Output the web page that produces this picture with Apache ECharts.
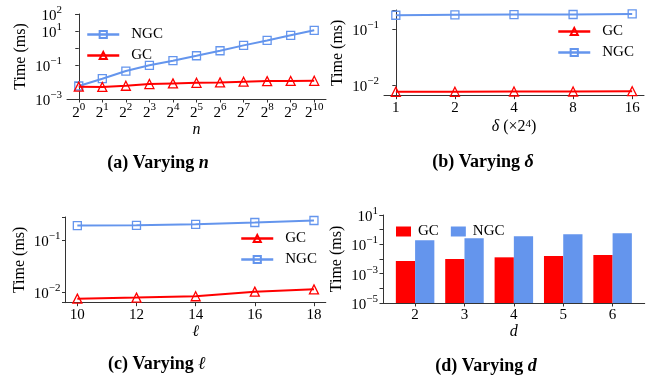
<!DOCTYPE html>
<html><head><meta charset="utf-8">
<script src="https://cdn.jsdelivr.net/npm/echarts@6/dist/echarts.min.js"></script>
<style>html,body{margin:0;padding:0;background:#fff}#c{width:660px;height:382px}</style>
</head><body><div id="c"></div>
<script>
// ---- data ----
const nExp = [0,1,2,3,4,5,6,7,8,9,10];               // x ticks of (a): 2^k
const ngcN = [0.0058,0.0156,0.044,0.096,0.18,0.35,0.69,1.43,2.8,5.6,11];
const gcN  = [0.0053,0.0051,0.006,0.0076,0.0083,0.009,0.0095,0.0104,0.0113,0.0115,0.0118];

const deltaLabels = ['1','2','4','8','16'];
const gcDelta  = [0.0075,0.0075,0.0076,0.0076,0.0077];
const ngcDelta = [0.180,0.183,0.185,0.186,0.190];

const ellVals = [10,12,14,16,18];
const gcEll  = [0.00755,0.0079,0.0084,0.0103,0.0114];
const ngcEll = [0.195,0.197,0.206,0.223,0.244];

const dVals = [2,3,4,5,6];
const gcD  = [0.0073,0.010,0.013,0.016,0.0188];
const ngcD = [0.19,0.26,0.36,0.49,0.57];

// ---- style ----
const BLUE = '#6495ED', RED = '#FF0000';
const FF = '"Liberation Serif", "DejaVu Serif", serif';
const AX = '#333';

const rich = {
  b: {fontSize: 15, fontFamily: FF, color: '#000', verticalAlign: 'bottom', lineHeight: 19},
  s: {fontSize: 11, fontFamily: FF, color: '#000', verticalAlign: 'top', lineHeight: 10}
};
function logFmt(show) {
  return function (v) {
    const l = Math.log10(v), e = Math.round(l);
    if (Math.abs(l - e) > 1e-7 || show.indexOf(e) < 0) return '';
    return '{b|10}{s|' + (e < 0 ? '\u2212' + (-e) : e) + '}';
  };
}
function yAxisLog(grid, min, max, show) {
  return {
    type: 'log', gridIndex: grid, min: min, max: max, logBase: 10,
    name: 'Time (ms)', nameLocation: 'middle', nameGap: 38,
    nameTextStyle: {fontFamily: FF, fontSize: 16, color: '#000'},
    axisLine: {show: true, lineStyle: {color: AX, width: 1}},
    axisTick: {show: true, length: 3.5, lineStyle: {color: AX}},
    splitLine: {show: false},
    axisLabel: {formatter: logFmt(show), rich: rich, margin: 5, color: '#000', hideOverlap: false}
  };
}
function xAxisVal(grid, min, max, custom, fmt, name, nameGap, nameRich, lm) {
  return {
    type: 'value', gridIndex: grid, min: min, max: max,
    name: name, nameLocation: 'middle', nameGap: nameGap,
    nameTextStyle: {fontFamily: FF, fontSize: 16, color: '#000', rich: nameRich},
    axisLine: {show: true, onZero: false, lineStyle: {color: AX, width: 1}},
    axisTick: {show: true, length: 3.5, customValues: custom, lineStyle: {color: AX}},
    splitLine: {show: false},
    axisLabel: {customValues: custom, formatter: fmt, rich: rich, margin: lm, color: '#000',
      fontFamily: FF, fontSize: 15}
  };
}
function lineSeries(name, xi, yi, xs, ys, color, sym, size) {
  return {
    type: 'line', name: name, xAxisIndex: xi, yAxisIndex: yi,
    data: xs.map((x, i) => [x, ys[i]]),
    symbol: sym, symbolSize: size,
    lineStyle: {color: color, width: 2},
    itemStyle: {color: 'rgba(255,255,255,0)', borderColor: color, borderWidth: 1.3},
    emphasis: {disabled: true}, z: sym === 'rect' ? 3 : 4
  };
}
const idx5 = [0,1,2,3,4];
const nameRichX = {
  i: {fontFamily: FF, fontStyle: 'italic', fontSize: 16, color: '#000'},
  r: {fontFamily: FF, fontSize: 16, color: '#000'},
  s: {fontFamily: FF, fontSize: 11, color: '#000', verticalAlign: 'top', lineHeight: 10}
};
const legText = {fontFamily: FF, fontSize: 15, color: '#000', padding: [0,0,0,7]};

const option = {
  animation: false,
  grid: [
    {left: 67, top: 14, width: 259, height: 85},
    {left: 384, top: 10, width: 260, height: 85.7},
    {left: 65.5, top: 217, width: 260.3, height: 85.7},
    {left: 383, top: 215, width: 261.7, height: 88}
  ],
  xAxis: [
    xAxisVal(0, -0.5, 10.5, nExp, v => '{b|2}{s|' + v + '}', '{i|n}', 15, nameRichX, 3),
    xAxisVal(1, -0.2, 4.2, idx5, v => deltaLabels[v], '{i|δ} {r|(×2}{s|4}{r|)}', 23, nameRichX, 5),
    xAxisVal(2, 9.6, 18.4, ellVals, v => String(v), '{i|ℓ}', 17, nameRichX, 5),
    xAxisVal(3, 1.35, 6.65, dVals, v => String(v), '{i|d}', 17, nameRichX, 5)
  ],
  yAxis: [
    yAxisLog(0, 0.001, 100.001, [-3, -1, 1, 2]),
    yAxisLog(1, 0.00638, 0.224, [-2, -1]),
    yAxisLog(2, 0.0063, 0.285, [-2, -1]),
    yAxisLog(3, 0.00001, 10.001, [-5, -3, -1, 1])
  ],
  series: [
    lineSeries('NGC', 0, 0, nExp, ngcN, BLUE, 'rect', 8),
    lineSeries('GC', 0, 0, nExp, gcN, RED, 'triangle', 9),
    lineSeries('GC ', 1, 1, idx5, gcDelta, RED, 'triangle', 9),
    lineSeries('NGC ', 1, 1, idx5, ngcDelta, BLUE, 'rect', 8),
    lineSeries('GC  ', 2, 2, ellVals, gcEll, RED, 'triangle', 9),
    lineSeries('NGC  ', 2, 2, ellVals, ngcEll, BLUE, 'rect', 8)
  ],
  graphic: []
};

// bars for (d) drawn on the log axis from the axis floor
function barSeries(name, vals, color, side) {
  return {
    type: 'custom', name: name, xAxisIndex: 3, yAxisIndex: 3, clip: true,
    itemStyle: {color: color},
    data: dVals.map((x, i) => [x, vals[i]]),
    renderItem: function (params, api) {
      const x = api.value(0), v = api.value(1);
      const top = api.coord([x, v]);
      const base = api.coord([x, 0.00001]);
      const w = api.size([0.39, 0])[0];
      return {type: 'rect',
        shape: {x: side < 0 ? top[0] - w : top[0], y: top[1], width: w, height: base[1] - top[1]},
        style: {fill: color}};
    }
  };
}
option.series.push(barSeries('GC   ', gcD, RED, -1));
option.series.push(barSeries('NGC   ', ngcD, BLUE, 1));

// legends: each panel
const legendFmt = n => n.trim();
const legLine = {width: 2.5};
option.legend = [
  {orient: 'vertical', left: 81, top: 22, itemWidth: 32, itemHeight: 9, itemGap: 6,
   data: ['NGC', 'GC'], textStyle: legText, selectedMode: false, formatter: legendFmt, lineStyle: legLine},
  {orient: 'vertical', left: 552, top: 19, itemWidth: 32, itemHeight: 9, itemGap: 6,
   data: ['GC ', 'NGC '], textStyle: legText, selectedMode: false, formatter: legendFmt, lineStyle: legLine},
  {orient: 'vertical', left: 235, top: 226, itemWidth: 32, itemHeight: 9, itemGap: 6,
   data: ['GC  ', 'NGC  '], textStyle: legText, selectedMode: false, formatter: legendFmt, lineStyle: legLine},
  {orient: 'horizontal', left: 391, top: 219, itemWidth: 15, itemHeight: 10, itemGap: 12,
   data: [{name: 'GC   ', icon: 'rect'}, {name: 'NGC   ', icon: 'rect'}],
   textStyle: {fontFamily: FF, fontSize: 15, color: '#000', padding: [0,0,0,2]},
   selectedMode: false, formatter: legendFmt}
];

// captions
const capRich = {
  b: {fontFamily: FF, fontWeight: 'bold', fontSize: 18, color: '#000'},
  i: {fontFamily: FF, fontWeight: 'bold', fontStyle: 'italic', fontSize: 18, color: '#000'}
};
const caps = [
  ['{b|(a) Varying }{i|n}', 158, 163],
  ['{b|(b) Varying }{i|δ}', 483, 162],
  ['{b|(c) Varying }{i|ℓ}', 157, 364],
  ['{b|(d) Varying }{i|d}', 486, 366]
];
option.graphic = caps.map(c => ({
  type: 'text', x: c[1], y: c[2],
  style: {text: c[0], rich: capRich, align: 'center', verticalAlign: 'middle'}
}));

const chart = echarts.init(document.getElementById('c'), null, {renderer: 'canvas'});
chart.setOption(option);
</script></body></html>
